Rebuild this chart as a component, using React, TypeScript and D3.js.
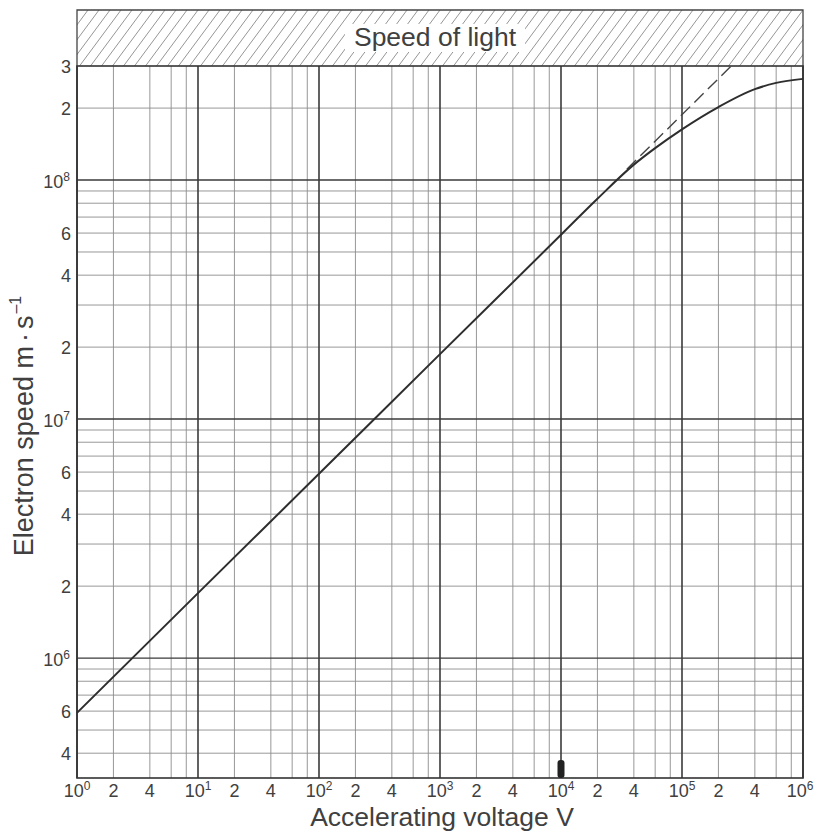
import React from "react";
import * as d3 from "d3";

// Relativistic electron speed
const voltage = [1, 10, 100, 1e3, 1e4, 2e4, 4e4, 6e4, 1e5, 2e5, 4e5, 6e5, 1e6];
const speed = [5.9e5, 1.87e6, 5.9e6, 1.87e7, 5.9e7, 8.35e7, 1.16e8, 1.36e8, 1.63e8, 2.02e8, 2.4e8, 2.55e8, 2.65e8];

// Classical (non-relativistic) extrapolation, dashed
const classicalVoltage = [3.5e4, 2.55e5];
const classicalSpeed = [1.11e8, 3.0e8];

// Axis ticks
const xDecades = [0, 1, 2, 3, 4, 5, 6];
const xMinorMultipliers = [2, 4, 6, 8];
const xLabelMultipliers = [2, 4];
const yDecades = [6, 7, 8];
const yMinorMultipliers = [2, 3, 4, 5, 6, 7, 8, 9];
const yLabelMinor = [3e8, 2e8, 6e7, 4e7, 2e7, 6e6, 4e6, 2e6, 6e5, 4e5];
const yLabelMinorText = ["3", "2", "6", "4", "2", "6", "4", "2", "6", "4"];

const xDomain: [number, number] = [1, 1e6];
const yDomain: [number, number] = [3.15e5, 3e8];

const W = 815;
const H = 833;
const left = 77;
const right = 803;
const top = 66;
const bottom = 778;
const hatchTop = 10;

const FONT = "'Liberation Sans', Arial, Helvetica, sans-serif";
const TXT = "#404040";

export default function App() {
  const x = d3.scaleLog().domain(xDomain).range([left, right]);
  const y = d3.scaleLog().domain(yDomain).range([bottom, top]);

  const vMinor: number[] = [];
  for (let k = 0; k < 6; k++) for (const m of xMinorMultipliers) vMinor.push(m * Math.pow(10, k));
  const vMajor = xDecades.map((k) => Math.pow(10, k));

  const hMinor: number[] = [];
  for (let k = 5; k <= 8; k++)
    for (const m of yMinorMultipliers) {
      const v = m * Math.pow(10, k);
      if (v > yDomain[0] && v < yDomain[1]) hMinor.push(v);
    }
  const hMajor = yDecades.map((k) => Math.pow(10, k));

  const line = d3
    .line<number>()
    .x((_, i) => x(voltage[i]))
    .y((d) => y(d))
    .curve(d3.curveMonotoneX);
  const dashed = d3
    .line<number>()
    .x((_, i) => x(classicalVoltage[i]))
    .y((d) => y(d));

  // hatching
  const hatchH = top - hatchTop;
  const run = hatchH / 1.35;
  const spacing = 11;
  const hatchLines: number[] = d3.range(left - run, right + spacing, spacing);

  const xLabels: { v: number; t: string; sup?: string }[] = [];
  for (let k = 0; k <= 6; k++) {
    xLabels.push({ v: Math.pow(10, k), t: "10", sup: String(k) });
    if (k < 6) for (const m of xLabelMultipliers) xLabels.push({ v: m * Math.pow(10, k), t: String(m) });
  }

  const labelY = 797;

  return (
    <svg
      width={W}
      height={H}
      style={{ position: "absolute", left: 0, top: 0, background: "#fff" }}
      fontFamily={FONT}
    >
      <rect x={0} y={0} width={W} height={H} fill="#fff" />
      <defs>
        <clipPath id="hatchClip">
          <rect x={left} y={hatchTop} width={right - left} height={hatchH} />
        </clipPath>
      </defs>

      {/* Hatched speed-of-light band */}
      <g clipPath="url(#hatchClip)">
        {hatchLines.map((hx, i) => (
          <line
            key={i}
            x1={hx}
            y1={top}
            x2={hx + run}
            y2={hatchTop}
            stroke="#7a7a7a"
            strokeWidth={0.8}
          />
        ))}
        <rect x={345} y={24} width={180} height={28} fill="#fff" />
      </g>
      <path
        d={`M${left},${top}V${hatchTop}H${right}V${top}`}
        fill="none"
        stroke="#444"
        strokeWidth={1.3}
      />
      <text x={435} y={46} fontSize={26.5} fill={TXT} textAnchor="middle">
        Speed of light
      </text>

      {/* minor grid */}
      {vMinor.map((v, i) => (
        <line key={"vm" + i} x1={x(v)} x2={x(v)} y1={top} y2={bottom} stroke="#8c8c8c" strokeWidth={0.9} />
      ))}
      {hMinor.map((v, i) => (
        <line key={"hm" + i} x1={left} x2={right} y1={y(v)} y2={y(v)} stroke="#8c8c8c" strokeWidth={0.9} />
      ))}
      {/* major grid */}
      {vMajor.map((v, i) => (
        <line key={"vM" + i} x1={x(v)} x2={x(v)} y1={top} y2={bottom} stroke="#3a3a3a" strokeWidth={1.6} />
      ))}
      {hMajor.map((v, i) => (
        <line key={"hM" + i} x1={left} x2={right} y1={y(v)} y2={y(v)} stroke="#3a3a3a" strokeWidth={1.4} />
      ))}
      <rect x={left} y={top} width={right - left} height={bottom - top} fill="none" stroke="#333" strokeWidth={1.6} />

      {/* curves */}
      <path d={dashed(classicalSpeed) || ""} fill="none" stroke="#444" strokeWidth={1.4} strokeDasharray="13,6" />
      <path d={line(speed) || ""} fill="none" stroke="#2e2e2e" strokeWidth={2} />

      {/* marker blob at 10^4 */}
      <rect x={x(1e4) - 3.5} y={bottom - 18} width={7} height={18} rx={3} fill="#222" />

      {/* x tick labels */}
      {xLabels.map((l, i) =>
        l.sup !== undefined ? (
          <text
            key={"xl" + i}
            x={Math.min(x(l.v), 800)}
            y={labelY}
            fontSize={18}
            fill={TXT}
            textAnchor="middle"
          >
            {l.t}
            <tspan fontSize={12} dy={-7}>
              {l.sup}
            </tspan>
          </text>
        ) : (
          <text key={"xl" + i} x={x(l.v)} y={labelY} fontSize={18} fill={TXT} textAnchor="middle">
            {l.t}
          </text>
        )
      )}

      {/* y tick labels */}
      {yLabelMinor.map((v, i) => (
        <text key={"yl" + i} x={71} y={y(v) + 7} fontSize={18} fill={TXT} textAnchor="end">
          {yLabelMinorText[i]}
        </text>
      ))}
      {yDecades.map((k) => (
        <text key={"yd" + k} x={70} y={y(Math.pow(10, k)) + 8} fontSize={18} fill={TXT} textAnchor="end">
          10
          <tspan fontSize={12} dy={-7}>
            {String(k)}
          </tspan>
        </text>
      ))}

      {/* axis titles */}
      <text x={442} y={826} fontSize={26.5} fill={TXT} textAnchor="middle">
        Accelerating voltage V
      </text>
      <text
        transform={`translate(33,426) rotate(-90)`}
        fontSize={27}
        fill={TXT}
        textAnchor="middle"
      >
        Electron speed m
        <tspan dx={4}>·</tspan>
        <tspan dx={4}>s</tspan>
        <tspan fontSize={16} dy={-12} dx={2}>
          –1
        </tspan>
      </text>
    </svg>
  );
}
